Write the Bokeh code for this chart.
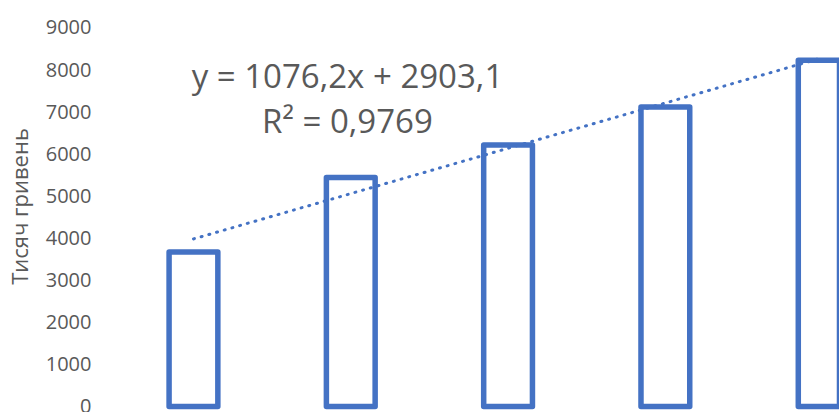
from bokeh.plotting import figure
from bokeh.models import FixedTicker, Range1d
from bokeh.embed import file_html
from bokeh.resources import INLINE
from bokeh.core.properties import value

# ---- data ----
categories = [1, 2, 3, 4, 5]
values = [3670, 5440, 6210, 7110, 8220]
y_ticks = [0, 1000, 2000, 3000, 4000, 5000, 6000, 7000, 8000, 9000]
trend_slope = 1076.2
trend_intercept = 2903.1
eq_line1 = "y = 1076,2x + 2903,1"
eq_line2 = "R² = 0,9769"
y_label = "Тисяч гривень"

BLUE = "#4472C4"
GREY = "#595959"
FONT = "Open Sans"

p = figure(width=839, height=412, output_backend="svg", toolbar_location=None,
           x_axis_location=None,
           x_range=Range1d(0.409, 5.107), y_range=Range1d(-142, 9641),
           min_border_left=0, min_border_right=0, min_border_top=0, min_border_bottom=0)
p.outline_line_color = None
p.grid.visible = False
p.background_fill_color = "white"
p.border_fill_color = "white"

ax = p.yaxis[0]
ax.ticker = FixedTicker(ticks=y_ticks)
ax.axis_line_color = None
ax.major_tick_line_color = None
ax.minor_tick_line_color = None
ax.major_tick_out = 0
ax.major_tick_in = 0
ax.minor_tick_out = 0
ax.major_label_text_font = FONT
ax.major_label_text_font_size = "20px"
ax.major_label_text_color = GREY
ax.major_label_standoff = 9
ax.axis_label = y_label
ax.axis_label_text_font = FONT
ax.axis_label_text_font_size = "22px"
ax.axis_label_text_font_style = "normal"
ax.axis_label_text_color = GREY
ax.axis_label_standoff = 9

p.vbar(x=categories, top=values, bottom=0, width=0.31,
       fill_color=None, line_color=BLUE, line_width=5.5, line_join="round")

trend_x = [categories[0], categories[-1]]
trend_y = [trend_slope * x + trend_intercept for x in trend_x]
p.line(trend_x, trend_y, line_color=BLUE, line_width=3, line_dash="1 7", line_cap="round")

p.text(x=[1.979], y=[7860], text=[eq_line1], text_align="center", text_baseline="middle",
       text_font=value(FONT), text_font_size="33px", text_color=GREY)
p.text(x=[1.979], y=[6792], text=[eq_line2], text_align="center", text_baseline="middle",
       text_font=value(FONT), text_font_size="33px", text_color=GREY)

open("out.html", "w").write(file_html(p, INLINE))
